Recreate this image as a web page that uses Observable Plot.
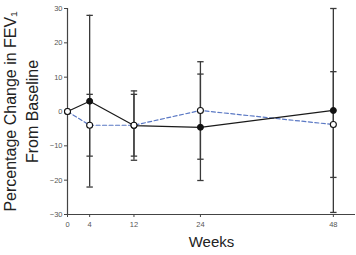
<!DOCTYPE html>
<html>
<head>
<meta charset="utf-8">
<script src="https://cdn.jsdelivr.net/npm/d3@7"></script>
<script src="https://cdn.jsdelivr.net/npm/@observablehq/plot@0.6"></script>
<style>
  html, body { margin: 0; padding: 0; background: #fff; }
  #chart { width: 356px; height: 255px; }
</style>
</head>
<body>
<div id="chart"></div>
<script>
const weeks = [0, 4, 12, 24, 48];
const weekTicks = [0, 4, 12, 24, 48];
const yTicks = [-30, -20, -10, 0, 10, 20, 30];
const solidMean = [0, 3, -4.1, -4.6, 0.3];
const solidErr = [null, 25, 10.1, 15.5, 29.7];
const dashedMean = [0, -4, -4, 0.3, -3.8];
const dashedErr = [null, 9, 9, 14.2, 15.4];
const yLabel1 = "Percentage Change in FEV\u2081";
const yLabel2 = "From Baseline";
const xLabel = "Weeks";

const solid = weeks.map((w, i) => ({week: w, mean: solidMean[i], err: solidErr[i]}));
const dashed = weeks.map((w, i) => ({week: w, mean: dashedMean[i], err: dashedErr[i]}));
const bars = [...solid, ...dashed].filter(d => d.err != null)
  .map(d => ({week: d.week, lo: d.mean - d.err, hi: d.mean + d.err}));
const caps = bars.flatMap(d => [{week: d.week, y: d.lo}, {week: d.week, y: d.hi}]);

const capSymbol = {draw(ctx) { ctx.moveTo(-3.2, 0); ctx.lineTo(3.2, 0); }};

const font = "'Liberation Sans', Arial, Helvetica, sans-serif";

const chart = Plot.plot({
  width: 356,
  height: 255,
  marginLeft: 67,
  marginRight: 1,
  marginTop: 8,
  marginBottom: 41,
  style: {fontFamily: font, background: "#fff"},
  x: {domain: [0, 52]},
  y: {domain: [-30, 30]},
  marks: [
    Plot.ruleX([0], {stroke: "#444", strokeWidth: 1.2}),
    Plot.ruleY([-30], {stroke: "#444", strokeWidth: 1.2}),
    Plot.axisY({ticks: yTicks, tickSize: 3, tickPadding: 2, fontSize: 7.5, fill: "#555", stroke: "#444", label: null}),
    Plot.axisX({ticks: weekTicks, tickSize: 3, tickPadding: 4, fontSize: 7.5, fill: "#555", stroke: "#444", label: null}),
    Plot.ruleX(bars, {x: "week", y1: "lo", y2: "hi", stroke: "#3a3a3a", strokeWidth: 1.3}),
    Plot.dot(caps, {x: "week", y: "y", symbol: capSymbol, stroke: "#3a3a3a", strokeWidth: 1.3, r: 3}),
    Plot.line(dashed, {x: "week", y: "mean", stroke: "#5a78c4", strokeWidth: 1.2, strokeDasharray: "4,2.5"}),
    Plot.line(solid, {x: "week", y: "mean", stroke: "#1a1a1a", strokeWidth: 1.2}),
    Plot.dot(solid, {x: "week", y: "mean", r: 3, fill: "#111", stroke: "#111", strokeWidth: 1}),
    Plot.dot(dashed, {x: "week", y: "mean", r: 3, fill: "#fff", stroke: "#111", strokeWidth: 1.1}),
    Plot.text([yLabel1], {frameAnchor: "left", textAnchor: "middle", rotate: -90, dx: -57, fontSize: 16, fill: "#222", text: d => d}),
    Plot.text([yLabel2], {frameAnchor: "left", textAnchor: "middle", rotate: -90, dx: -35, fontSize: 16, fill: "#222", text: d => d}),
    Plot.text([xLabel], {frameAnchor: "bottom", dy: 32, fontSize: 15, fill: "#222", text: d => d})
  ]
});
document.getElementById("chart").appendChild(chart);
</script>
</body>
</html>
